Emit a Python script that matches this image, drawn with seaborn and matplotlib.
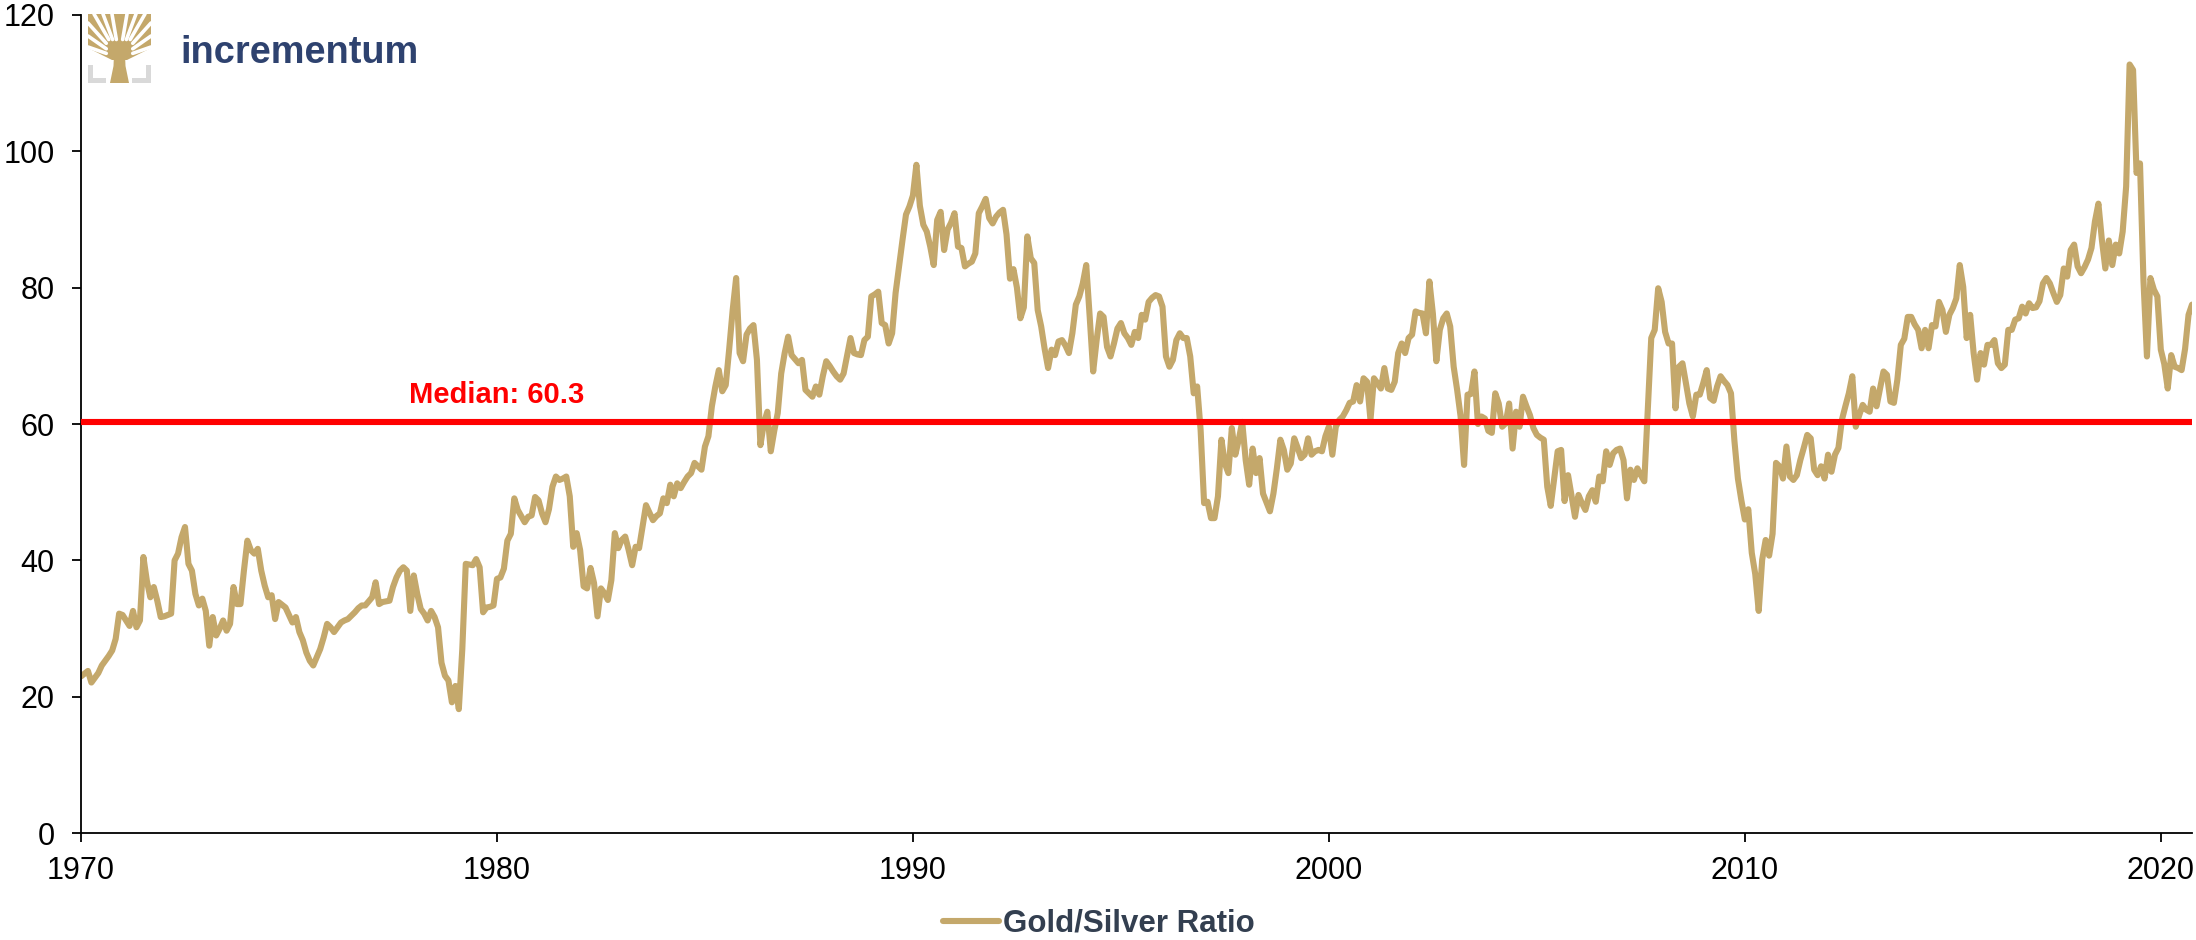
import numpy as np
import pandas as pd
import seaborn as sns
import matplotlib.pyplot as plt
from matplotlib.lines import Line2D
from matplotlib.patches import Polygon, Rectangle

# Monthly gold/silver ratio, Jan 1970 - Oct 2020 (one row of 12 per year)
ratio_1970s = [
    23.0, 23.4, 23.8, 22.1, 22.8, 23.5, 24.6, 25.3, 26.0, 26.8, 28.5, 32.2,
    32.0, 31.2, 30.4, 32.6, 30.2, 31.2, 40.5, 37.0, 34.6, 36.1, 34.1, 31.7,
    31.8, 32.0, 32.2, 40.0, 41.0, 43.4, 44.9, 39.5, 38.5, 35.1, 33.4, 34.4,
    32.6, 27.5, 31.7, 29.0, 30.0, 31.2, 29.7, 30.7, 36.1, 33.6, 33.6, 38.5,
    42.9, 41.5, 41.0, 41.7, 38.5, 36.3, 34.6, 34.9, 31.4, 33.9, 33.5, 33.1,
    32.0, 30.9, 31.7, 29.5, 28.3, 26.5, 25.3, 24.6, 25.8, 27.0, 28.7, 30.7,
    30.2, 29.5, 30.2, 30.9, 31.2, 31.4, 31.9, 32.4, 33.0, 33.4, 33.4, 34.0,
    34.6, 36.8, 33.6, 33.9, 34.0, 34.1, 36.1, 37.5, 38.5, 39.0, 38.5, 32.6,
    37.8, 35.1, 32.9, 32.2, 31.2, 32.6, 31.7, 30.2, 25.0, 23.1, 22.4, 19.2,
    21.6, 18.2, 27.0, 39.5, 39.4, 39.3, 40.2, 39.0, 32.4, 33.1, 33.2, 33.4,
]
ratio_1980s = [
    37.3, 37.5, 38.8, 42.9, 43.9, 49.1, 47.4, 46.5, 45.6, 46.4, 46.6, 49.3,
    48.8, 46.9, 45.6, 47.5, 50.8, 52.3, 51.8, 52.0, 52.3, 49.4, 42.0, 44.0,
    41.5, 36.2, 35.9, 38.9, 36.7, 31.8, 35.9, 35.2, 34.2, 37.1, 44.0, 41.8,
    43.0, 43.5, 41.5, 39.3, 42.0, 41.8, 45.0, 48.1, 47.0, 45.9, 46.5, 46.9,
    49.1, 48.4, 51.1, 49.4, 51.3, 50.6, 51.5, 52.3, 52.8, 54.3, 53.8, 53.3,
    56.7, 58.2, 62.6, 65.5, 67.9, 64.8, 65.7, 71.0, 76.7, 81.4, 70.4, 69.2,
    73.1, 74.0, 74.5, 69.4, 56.9, 60.1, 61.8, 56.0, 59.0, 61.6, 67.4, 70.4,
    72.8, 70.1, 69.5, 68.9, 69.4, 65.0, 64.5, 64.0, 65.5, 64.3, 67.0, 69.2,
    68.5, 67.7, 67.0, 66.5, 67.4, 70.0, 72.6, 70.4, 70.2, 70.1, 72.3, 72.8,
    78.7, 79.0, 79.4, 74.8, 74.5, 71.8, 73.3, 79.2, 83.1, 87.0, 90.7, 91.9,
]
ratio_1990s = [
    93.5, 98.0, 92.0, 89.2, 88.2, 86.0, 83.3, 89.9, 91.1, 85.5, 88.5, 89.5,
    90.9, 86.0, 85.8, 83.1, 83.5, 83.8, 85.0, 90.9, 91.9, 93.0, 90.2, 89.4,
    90.4, 91.0, 91.4, 87.8, 81.3, 82.7, 80.0, 75.5, 77.1, 87.5, 84.3, 83.6,
    76.7, 74.3, 71.0, 68.2, 70.9, 70.1, 72.1, 72.3, 71.5, 70.4, 73.3, 77.5,
    78.7, 80.6, 83.3, 75.7, 67.7, 72.3, 76.2, 75.7, 71.3, 69.9, 71.8, 74.0,
    74.8, 73.3, 72.6, 71.6, 73.5, 72.6, 76.0, 75.3, 77.9, 78.5, 78.9, 78.7,
    77.2, 69.9, 68.4, 69.4, 72.3, 73.3, 72.6, 72.6, 69.9, 64.5, 65.5, 59.1,
    48.4, 48.6, 46.2, 46.2, 49.4, 57.7, 54.2, 52.8, 59.4, 55.5, 57.7, 60.3,
    54.7, 51.1, 56.4, 52.8, 55.0, 49.8, 48.5, 47.2, 49.8, 53.5, 57.7, 56.2,
    53.3, 54.2, 57.9, 56.5, 55.0, 55.5, 57.9, 55.5, 56.0, 56.2, 56.0, 58.2,
]
ratio_2000s = [
    59.6, 55.5, 59.6, 60.6, 61.1, 62.0, 63.1, 63.3, 65.7, 63.3, 66.7, 66.2,
    60.6, 66.7, 66.0, 65.2, 68.2, 65.2, 65.0, 66.2, 70.4, 71.8, 70.4, 72.6,
    73.1, 76.5, 76.3, 76.2, 73.3, 80.9, 76.2, 69.2, 73.8, 75.5, 76.2, 74.3,
    68.4, 65.0, 61.1, 54.0, 64.3, 64.4, 67.7, 60.0, 61.1, 60.8, 59.0, 58.7,
    64.5, 63.0, 59.6, 60.1, 63.0, 56.4, 61.8, 59.6, 64.0, 62.6, 61.3, 59.4,
    58.4, 58.0, 57.7, 50.8, 48.0, 52.0, 56.0, 56.2, 48.7, 52.5, 49.5, 46.4,
    49.6, 48.4, 47.4, 49.4, 50.3, 48.6, 52.3, 51.6, 56.0, 54.0, 55.7, 56.2,
    56.4, 54.7, 49.1, 53.3, 51.8, 53.5, 52.5, 51.6, 62.0, 72.6, 73.8, 79.9,
    77.9, 73.5, 71.8, 71.8, 62.3, 68.4, 68.9, 66.0, 63.0, 61.1, 64.3, 64.3,
    66.0, 67.9, 63.8, 63.4, 65.5, 67.0, 66.3, 65.7, 64.5, 57.5, 52.0, 48.8,
]
ratio_2010s = [
    46.0, 47.5, 41.1, 38.0, 32.6, 40.1, 43.0, 40.7, 43.9, 54.3, 53.8, 52.0,
    56.7, 52.3, 51.8, 52.5, 54.7, 56.5, 58.4, 57.9, 53.3, 52.5, 53.8, 52.0,
    55.5, 53.0, 55.5, 56.5, 60.6, 62.6, 64.5, 67.0, 59.6, 61.3, 62.8, 62.1,
    61.8, 65.2, 62.6, 65.2, 67.7, 67.2, 63.3, 63.1, 66.5, 71.6, 72.5, 75.7,
    75.7, 74.6, 73.8, 71.1, 73.8, 71.1, 74.5, 74.3, 77.9, 76.7, 73.5, 76.0,
    77.0, 78.4, 83.3, 80.1, 72.6, 76.0, 70.4, 66.5, 70.4, 68.7, 71.6, 71.6,
    72.3, 68.9, 68.2, 68.7, 73.8, 73.8, 75.3, 75.5, 77.2, 76.2, 77.7, 77.0,
    77.1, 78.0, 80.6, 81.4, 80.6, 79.2, 77.9, 78.9, 82.8, 81.6, 85.5, 86.3,
    83.1, 82.1, 83.0, 84.1, 85.8, 89.7, 92.3, 87.0, 82.8, 86.9, 83.3, 86.3,
    85.0, 88.2, 94.8, 112.7, 111.9, 96.8, 98.2, 81.0, 69.9, 81.4, 79.7, 78.7,
]
ratio_2020 = [70.9, 68.8, 65.2, 70.1, 68.4, 68.2, 67.9, 71.0, 76.0, 77.5]

MEDIAN = 60.3
START_YEAR = 1970
x_ticks = [1970, 1980, 1990, 2000, 2010, 2020]
y_ticks = [0, 20, 40, 60, 80, 100, 120]
series_label = "Gold/Silver Ratio"

GOLD = "#C4A86B"
RED = "#FF0000"
NAVY = "#2E426F"
SLATE = "#333F50"

ratio = np.concatenate([ratio_1970s, ratio_1980s, ratio_1990s,
                        ratio_2000s, ratio_2010s, ratio_2020])
df = pd.DataFrame({
    "year": START_YEAR + np.arange(len(ratio)) / 12.0,
    "ratio": ratio,
})

sns.set_theme(style="white")
plt.rcParams["font.family"] = ["Liberation Sans", "DejaVu Sans"]

W, H = 2196, 940
fig = plt.figure(figsize=(W / 100, H / 100), dpi=100)
fig.patch.set_facecolor("white")
ax = fig.add_axes([81 / W, 1 - 833.3 / H, (2192 - 81) / W, (833.3 - 14.7) / H])

sns.lineplot(data=df, x="year", y="ratio", color=GOLD, linewidth=4.4,
             ax=ax, legend=False, zorder=2)
ax.axhline(MEDIAN, color=RED, linewidth=4.4, zorder=3)
ax.text(1980, MEDIAN + 2.8, f"Median: {MEDIAN}", color=RED, fontsize=21,
        fontweight="bold", ha="center", va="baseline", zorder=4)

ax.set_xlim(1970, 2020.75)
ax.set_ylim(0, 120)
ax.set_xticks(x_ticks)
ax.set_xticklabels([str(t) for t in x_ticks])
ax.set_yticks(y_ticks)
ax.set_xlabel("")
ax.set_ylabel("")
ax.grid(False)
sns.despine(ax=ax)
for side in ("left", "bottom"):
    ax.spines[side].set_color("black")
    ax.spines[side].set_linewidth(1.3)
ax.tick_params(axis="both", which="major", direction="out", length=6.5,
               width=1.3, colors="black", labelsize=22,
               bottom=True, left=True)
ax.tick_params(axis="x", pad=9.5)
ax.tick_params(axis="y", pad=12.5)

# Legend below the plot
handle = Line2D([0], [0], color=GOLD, lw=4.4, solid_capstyle="round")
leg = fig.legend([handle], [series_label], loc="center",
                 bbox_to_anchor=(1099 / W, 1 - 924 / H), frameon=False,
                 fontsize=22.5, handlelength=1.8, handletextpad=0.12,
                 borderpad=0, borderaxespad=0)
for t in leg.get_texts():
    t.set_fontweight("bold")
    t.set_color(SLATE)

# Company mark: tree icon and word mark
fig.text(180 / W, 1 - 63 / H, "incrementum", color=NAVY, fontsize=27.3,
         fontweight="bold", ha="left", va="baseline")

logo = fig.add_axes([88 / W, 1 - 83 / H, 63 / W, 69 / H])
logo.set_xlim(0, 63)
logo.set_ylim(69, 0)
logo.axis("off")
grey = "#D9D9D9"
for rect in [(0, 51, 5, 18), (0, 64, 18, 5), (58, 51, 5, 18), (44, 64, 19, 5)]:
    logo.add_patch(Rectangle(rect[:2], rect[2], rect[3], color=grey, lw=0))
# crown and trunk in gold, split into branches by thin white gaps
logo.add_patch(Polygon([(0, 0), (63, 0), (63, 34), (39, 46), (24, 46), (0, 34)],
                       color=GOLD, lw=0))
logo.add_patch(Polygon([(22, 69), (41, 69), (37.5, 52), (37, 40), (26, 40),
                        (25.5, 52)], color=GOLD, lw=0))
crown = Rectangle((0, 0), 63, 46, transform=logo.transData)
center = np.array([31.5, 44.0])
gap_ends = [(6, 0), (15, 0), (24, 0), (39, 0), (48, 0), (57, 0),
            (0, 9), (0, 22), (63, 9), (63, 22), (0, 33), (63, 33)]
for ex, ey in gap_ends:
    end = np.array([ex, ey], dtype=float)
    start = center + 0.42 * (end - center)
    ln, = logo.plot([start[0], end[0]], [start[1], end[1]], color="white",
                    lw=2.6, solid_capstyle="round")
    ln.set_clip_path(crown)

fig.savefig("out.png", dpi=100, facecolor="white")
